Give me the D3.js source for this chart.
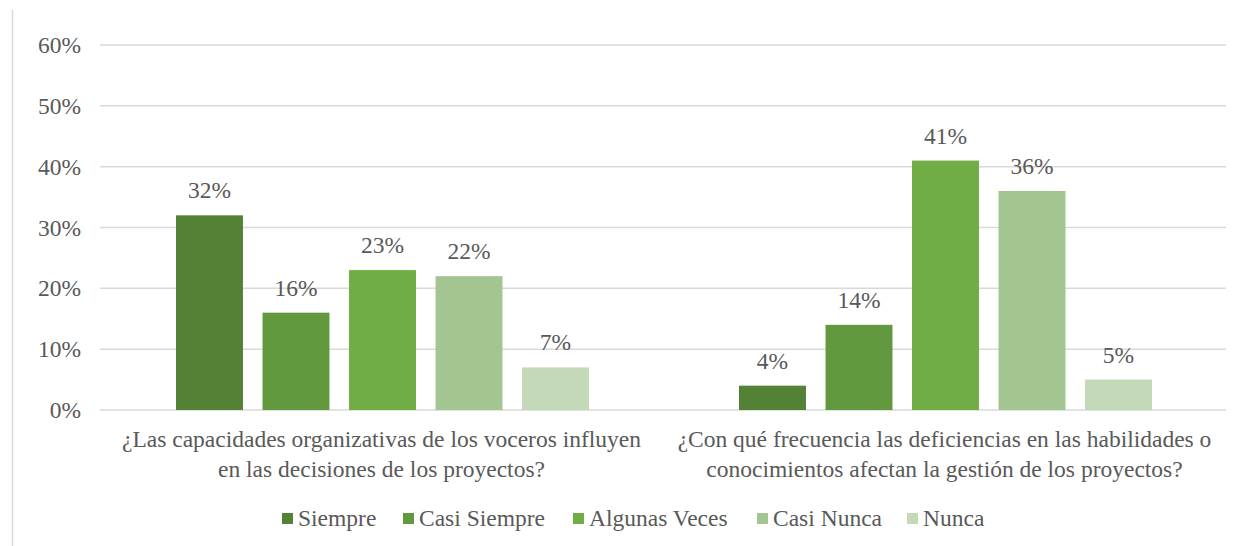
<!DOCTYPE html>
<html>
<head>
<meta charset="utf-8">
<script src="https://cdn.jsdelivr.net/npm/d3@7"></script>
</head>
<body style="margin:0">
<div id="vis"></div>
<script>
const questions = [
  ['¿Las capacidades organizativas de los voceros influyen', 'en las decisiones de los proyectos?'],
  ['¿Con qué frecuencia las deficiencias en las habilidades o', 'conocimientos afectan la gestión de los proyectos?']
];
const answers = ['Siempre', 'Casi Siempre', 'Algunas Veces', 'Casi Nunca', 'Nunca'];
const q1Values = [32, 16, 23, 22, 7];
const q2Values = [4, 14, 41, 36, 5];
const colors = ['#538135', '#62993e', '#70ad47', '#a2c591', '#c4d9b8'];
const yTicks = [0, 10, 20, 30, 40, 50, 60];

const width = 1237;
const height = 546;
const margin = { top: 45, left: 100, right: 11, bottom: 136 };
const fontSize = 23.5;

const svg = d3.select('#vis')
  .append('svg')
    .attr('width', width)
    .attr('height', height);

// chart frame line on the left
svg.append('line')
  .attr('x1', 12.5).attr('x2', 12.5)
  .attr('y1', 10).attr('y2', height)
  .attr('stroke', '#d9d9d9').attr('stroke-width', 1.5);

const y = d3.scaleLinear()
  .domain([0, 60])
  .range([height - margin.bottom, margin.top]);

const x0 = d3.scaleBand()
  .domain([0, 1])
  .range([margin.left, width - margin.right]);

const x1 = d3.scaleBand()
  .domain(answers)
  .range([76, x0.bandwidth() - 74])
  .paddingInner(0.226);

function label(sel) {
  return sel
    .attr('font-family', 'Liberation Serif')
    .style('font-family', '"Liberation Serif", "Times New Roman", serif', 'important')
    .attr('font-size', fontSize)
    .attr('fill', '#595959');
}

// gridlines
svg.append('g')
  .selectAll('line')
  .data(yTicks)
  .join('line')
    .attr('x1', margin.left).attr('x2', width - margin.right)
    .attr('y1', d => y(d)).attr('y2', d => y(d))
    .attr('stroke', '#d9d9d9').attr('stroke-width', 1.5);

// y tick labels
svg.append('g')
  .selectAll('text')
  .data(yTicks)
  .join('text')
    .attr('x', 81)
    .attr('y', d => y(d) + 8)
    .attr('text-anchor', 'end')
    .call(label)
    .text(d => d + '%');

const series = [q1Values, q2Values];

series.forEach((vals, gi) => {
  const g = svg.append('g').attr('transform', 'translate(' + x0(gi) + ',0)');

  g.selectAll('rect')
    .data(vals)
    .join('rect')
      .attr('x', (d, i) => x1(answers[i]))
      .attr('width', x1.bandwidth())
      .attr('y', d => y(d))
      .attr('height', d => y(0) - y(d))
      .attr('fill', (d, i) => colors[i]);

  g.selectAll('text.lbl')
    .data(vals)
    .join('text')
      .attr('class', 'lbl')
      .attr('x', (d, i) => x1(answers[i]) + x1.bandwidth() / 2)
      .attr('y', d => y(d) - 17)
      .attr('text-anchor', 'middle')
      .call(label)
      .text(d => d + '%');

  const cx = x0.bandwidth() / 2;
  g.selectAll('text.cat')
    .data(questions[gi])
    .join('text')
      .attr('class', 'cat')
      .attr('x', cx)
      .attr('y', (d, i) => 447 + i * 30)
      .attr('text-anchor', 'middle')
      .call(label)
      .text(d => d);
});

// legend
const legendX = [282, 403, 573, 757, 907];
const legend = svg.append('g');
answers.forEach((a, i) => {
  legend.append('rect')
    .attr('x', legendX[i]).attr('y', 513)
    .attr('width', 11).attr('height', 11)
    .attr('fill', colors[i]);
  legend.append('text')
    .attr('x', legendX[i] + 16).attr('y', 526)
    .call(label)
    .text(a);
});
</script>
</body>
</html>
